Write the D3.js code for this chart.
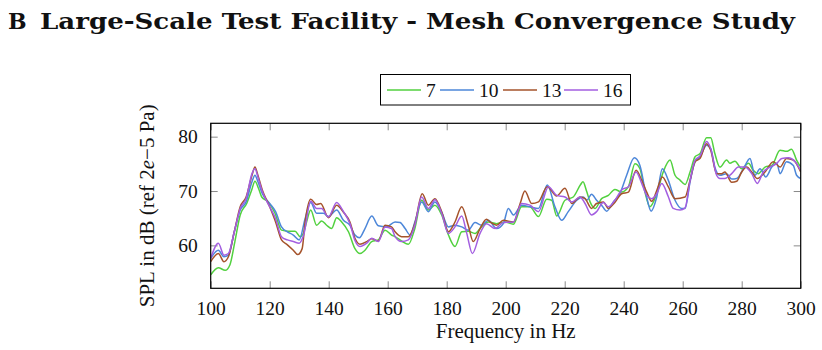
<!DOCTYPE html>
<html>
<head>
<meta charset="utf-8">
<script src="https://cdn.jsdelivr.net/npm/d3@7"></script>
<style>
  body { margin: 0; background: #fff; }
  text { font-family: "Liberation Serif", "DejaVu Serif", serif; fill: #111; }
</style>
</head>
<body>
<div id="chart"></div>
<script>
// series names and colors
var seriesNames = ["7", "10", "13", "16"];
var seriesColors = ["#52d13f", "#4d87d9", "#a5532b", "#a35ee0"];
var xTicks = [100, 120, 140, 160, 180, 200, 220, 240, 260, 280, 300];
var yTicks = [60, 70, 80];

// [frequency Hz, SPL dB]
var spl7 = [[100,54.6],[102.6,55.9],[104.9,55.4],[106.5,56.4],[108.2,60.7],[110,65.6],[112.2,67.7],[113.9,70.2],[115,71.8],[116.2,70.5],[117.3,68.9],[119.5,68.0],[121.8,65.9],[124,62.8],[126.3,62.6],[128.6,62.6],[130.3,61.6],[131.4,62.2],[132.5,64.3],[133.9,66.5],[135.9,63.7],[137.6,64.5],[139.3,63.7],[141,63.1],[142.7,65.1],[144.4,64.3],[146.7,62.5],[148.9,59.4],[150.6,58.5],[152.3,59.1],[154.6,60.7],[156.8,61.0],[159.1,62.8],[161.3,61.9],[162.5,61.6],[164.7,60.8],[167,60.2],[169.2,63.1],[171.5,68.3],[173.8,66.5],[176,67.4],[178.3,65.6],[180.6,61.9],[182.8,59.8],[185.1,62.5],[187.3,62.6],[189.6,62.2],[191.8,63.4],[194.1,64.3],[196.9,64.0],[199.8,64.3],[202.6,63.9],[205.4,67.1],[208.2,67.1],[211.1,65.3],[213.9,68.5],[215.6,68.3],[217.3,65.4],[220.1,68.3],[222.9,68.9],[225.4,71.2],[226.2,71.7],[227.4,70.0],[228.6,68.0],[230.3,66.8],[232.5,68.6],[234.8,69.2],[237,70.3],[239.3,69.8],[241.6,70.8],[243.8,75.0],[245.5,74.1],[247.2,69.8],[248.9,67.1],[251.2,69.5],[253.4,73.5],[255.7,75.7],[257.4,72.9],[259.1,72.0],[260.8,71.2],[262.5,73.5],[264.2,76.3],[265.9,76.9],[268.1,79.8],[269.5,79.8],[270.9,76.9],[272.6,74.4],[274.9,75.7],[276,75.1],[277.7,75.5],[280,74.1],[282.3,75.1],[283.9,73.8],[285.6,73.2],[287.9,74.4],[290.2,74.7],[293,77.5],[295.2,77.3],[296.9,77.7],[298.6,75.7],[300,74.4]];

var spl10 = [[100,57.6],[102.6,59.1],[104.5,57.9],[106,58.2],[108,62.5],[110,66.5],[112,68.0],[114,71.7],[115,72.9],[116,71.7],[117.5,69.5],[120,67.7],[122,66.2],[124,63.4],[126,62.5],[128,61.9],[130,61.0],[132,64.9],[133.9,67.9],[135.9,65.9],[138.2,65.9],[139.9,65.3],[142.7,66.5],[145,64.6],[147.2,63.7],[148.9,61.9],[150.4,61.4],[152.3,63.1],[154.6,65.4],[156.8,63.6],[159.6,63.4],[162.5,64.3],[164.2,64.2],[165.9,63.1],[167.6,61.9],[169.2,64.3],[171.5,68.0],[173.8,66.2],[176,68.0],[178.3,66.1],[180.6,63.4],[182.8,63.7],[185.1,63.4],[187.3,62.8],[189.6,64.2],[191.8,63.7],[194.1,64.6],[196.9,63.1],[199.2,64.0],[200.9,66.8],[202.6,65.6],[205.4,67.4],[208.2,67.1],[211.1,66.8],[214.1,71.1],[216.7,67.1],[219,64.6],[221.2,66.2],[224.1,68.3],[226.3,68.9],[227.5,68.3],[229.1,69.4],[230.8,68.3],[232.5,67.4],[234.2,66.3],[236.5,68.0],[238.7,69.5],[241,72.9],[243.6,76.1],[245.5,74.7],[247.4,69.8],[249.3,66.3],[251.2,68.9],[253.1,74.1],[255.1,72.0],[257.4,68.3],[259.6,66.8],[260.8,66.8],[262.5,71.7],[264.2,75.4],[265.9,76.3],[268.1,78.4],[269.5,77.8],[270.9,74.4],[272.6,72.9],[274.9,73.2],[276.6,72.2],[278.3,72.3],[280.6,74.1],[282.8,76.0],[284.5,72.9],[286.2,74.1],[288.2,72.6],[290.2,74.4],[291.9,75.1],[293,73.2],[295.2,75.4],[297.5,74.7],[298.6,72.9],[300,72.3]];

var spl13 = [[100,57.0],[102.6,58.5],[104.5,57.0],[106,57.9],[108,62.5],[110,67.1],[112,68.9],[114,72.9],[115,74.4],[116,72.9],[117.5,70.2],[120,67.1],[122,64.3],[124,61.0],[126,60.1],[128,59.1],[129.5,58.3],[131,59.4],[132,64.3],[133.9,68.5],[135.9,67.5],[137.3,67.7],[139.9,65.1],[142.7,67.4],[145,66.1],[147.2,64.3],[148.9,61.3],[150.6,60.2],[152.9,60.7],[154.6,61.2],[156.8,60.8],[159.1,63.7],[161.3,63.4],[162.5,62.5],[164.7,61.6],[167,61.6],[169.2,64.0],[171.7,69.5],[173.8,67.4],[176,68.6],[178.3,66.2],[180.6,62.5],[182.8,64.3],[185.1,67.1],[187.3,63.7],[189,60.7],[191.3,63.1],[193.5,64.8],[194.7,64.3],[196.9,63.7],[199.2,64.6],[202.6,64.3],[204.9,67.7],[206.5,70.0],[208.8,67.7],[211.1,68.0],[214.1,70.8],[217.3,69.1],[220.1,70.5],[222.4,67.7],[225.2,68.9],[226.9,68.6],[229.1,66.8],[230.8,67.7],[233.1,68.0],[234.8,66.8],[237,67.9],[239.3,69.5],[241.6,69.8],[244.2,73.8],[246.1,72.0],[247.8,69.8],[249.5,68.1],[251.2,70.1],[253.1,72.6],[255.1,70.8],[257.4,68.6],[260.8,68.9],[262.5,72.0],[264.2,75.4],[265.9,76.0],[268.1,78.7],[269.5,77.5],[271.5,73.2],[273.2,73.2],[274.3,73.5],[276.6,71.6],[278.3,71.8],[280,73.5],[281.7,74.4],[283.4,73.5],[285.3,72.3],[287.9,73.5],[290.7,75.4],[293,74.4],[295.2,76.0],[297.5,75.7],[300,73.5]];

var spl16 = [[100,57.6],[102.6,60.4],[104.5,58.2],[106,58.5],[108,62.5],[110,66.8],[112,68.6],[114,73.2],[115,74.1],[116,72.6],[117.5,69.9],[120,67.1],[122,64.9],[124,61.6],[126,61.0],[128,60.7],[130,60.4],[131.5,61.9],[133.9,68.1],[135.9,66.8],[137.6,66.8],[139.9,65.2],[142.7,67.9],[145,66.2],[147.2,64.0],[148.9,60.9],[150.6,59.8],[152.9,60.4],[154.6,61.3],[156.8,60.7],[159.1,63.4],[161.3,63.1],[162.5,61.6],[164.7,60.7],[167,61.0],[169.2,63.7],[171.5,68.9],[173.8,66.8],[176,68.4],[178.3,65.9],[180.6,62.2],[182.8,63.4],[185.1,65.4],[186.8,62.2],[188.7,58.5],[191.3,62.2],[193.5,64.0],[196.4,63.1],[199.2,64.2],[202.6,64.3],[205.4,67.7],[208.2,67.4],[211.1,66.2],[214.5,70.8],[217.3,69.2],[220.1,68.9],[222.4,68.0],[225.2,68.9],[226.9,67.7],[229.1,65.6],[230.8,66.2],[233.1,67.9],[234.8,67.1],[237,68.3],[239.3,70.2],[241.6,70.8],[244.2,73.5],[246.1,71.4],[247.8,69.2],[249.5,68.6],[251.2,69.5],[252.9,71.4],[255.1,69.0],[256.8,66.8],[259.1,66.5],[260.8,66.9],[262.5,71.9],[264.2,75.7],[265.9,76.5],[268.1,79.1],[269.5,77.8],[271.5,72.9],[272.6,72.3],[274.3,72.3],[276.6,73.2],[278.9,74.4],[281.1,74.4],[283.4,73.2],[285.3,71.4],[287.3,73.5],[289.6,74.4],[291.9,75.1],[293.6,76.0],[295.8,76.1],[298.1,75.4],[300,73.8]];

var allSeries = [spl7, spl10, spl13, spl16];

var width = 822, height = 350;
var plot = { left: 210.7, right: 800.7, top: 123.3, bottom: 288.3 };

var svg = d3.select("#chart").append("svg")
    .attr("width", width)
    .attr("height", height);

// heading
svg.append("text")
    .attr("x", 8).attr("y", 29)
    .style("font-family", "'DejaVu Serif', serif")
    .style("font-weight", "bold")
    .style("font-size", "22px")
    .text("B");
svg.append("text")
    .attr("x", 40).attr("y", 29)
    .attr("textLength", 755)
    .attr("lengthAdjust", "spacingAndGlyphs")
    .style("font-family", "'DejaVu Serif', serif")
    .style("font-weight", "bold")
    .style("font-size", "22px")
    .text("Large-Scale Test Facility - Mesh Convergence Study");

var x = d3.scaleLinear().domain([100, 300]).range([plot.left, plot.right]);
var y = d3.scaleLinear().domain([52.1, 82.46]).range([plot.bottom, plot.top]);

var tickLen = 7;
function styleAxis(g) {
    g.select(".domain").remove();
    g.selectAll(".tick line").attr("stroke", "#8a8a8a").attr("stroke-width", 1);
    g.selectAll(".tick text")
        .style("font-size", "19.5px")
        .style("font-family", "'Liberation Serif', serif")
        .attr("fill", "#111");
}

svg.append("g")
    .attr("transform", "translate(0," + plot.bottom + ")")
    .call(d3.axisBottom(x).tickValues(xTicks).tickSizeInner(-tickLen).tickSizeOuter(0).tickPadding(tickLen + 6))
    .call(styleAxis);
svg.append("g")
    .attr("transform", "translate(0," + plot.top + ")")
    .call(d3.axisTop(x).tickValues(xTicks).tickSizeInner(-tickLen).tickSizeOuter(0).tickFormat(""))
    .call(styleAxis);
svg.append("g")
    .attr("transform", "translate(" + plot.left + ",0)")
    .call(d3.axisLeft(y).tickValues(yTicks).tickSizeInner(-tickLen).tickSizeOuter(0).tickPadding(tickLen + 6))
    .call(styleAxis);
svg.append("g")
    .attr("transform", "translate(" + plot.right + ",0)")
    .call(d3.axisRight(y).tickValues(yTicks).tickSizeInner(-tickLen).tickSizeOuter(0).tickFormat(""))
    .call(styleAxis);

// lines
var line = d3.line()
    .x(function (d) { return x(d[0]); })
    .y(function (d) { return y(d[1]); })
    .curve(d3.curveMonotoneX);

svg.append("defs").append("clipPath").attr("id", "clip")
    .append("rect")
    .attr("x", plot.left).attr("y", plot.top)
    .attr("width", plot.right - plot.left).attr("height", plot.bottom - plot.top);

svg.append("g").attr("clip-path", "url(#clip)")
    .selectAll("path")
    .data(allSeries)
    .enter().append("path")
    .attr("d", line)
    .attr("fill", "none")
    .attr("stroke", function (d, i) { return seriesColors[i]; })
    .attr("stroke-width", 1.5)
    .attr("stroke-linejoin", "round");

// frame
svg.append("rect")
    .attr("x", plot.left).attr("y", plot.top)
    .attr("width", plot.right - plot.left).attr("height", plot.bottom - plot.top)
    .attr("fill", "none").attr("stroke", "#000").attr("stroke-width", 1.2);

// axis labels
svg.append("text")
    .attr("x", (plot.left + plot.right) / 2).attr("y", 338)
    .attr("text-anchor", "middle")
    .style("font-size", "21px")
    .text("Frequency in Hz");

var yl = svg.append("text")
    .attr("transform", "translate(154," + ((plot.top + plot.bottom) / 2) + ") rotate(-90)")
    .attr("text-anchor", "middle")
    .style("font-size", "21px");
yl.append("tspan").text("SPL in dB (ref 2");
yl.append("tspan").style("font-style", "italic").text("e");
yl.append("tspan").text("\u22125 Pa)");

// legend
var legendX = [387, 440, 503, 564];
var lg = svg.append("g");
lg.append("rect")
    .attr("x", 380.5).attr("y", 74.5)
    .attr("width", 250).attr("height", 30.5)
    .attr("fill", "#fff").attr("stroke", "#000").attr("stroke-width", 1);
seriesNames.forEach(function (name, i) {
    lg.append("line")
        .attr("x1", legendX[i]).attr("x2", legendX[i] + 34)
        .attr("y1", 90).attr("y2", 90)
        .attr("stroke", seriesColors[i]).attr("stroke-width", 1.5);
    lg.append("text")
        .attr("x", legendX[i] + 39).attr("y", 96.5)
        .style("font-size", "19.5px")
        .text(name);
});
</script>
</body>
</html>
